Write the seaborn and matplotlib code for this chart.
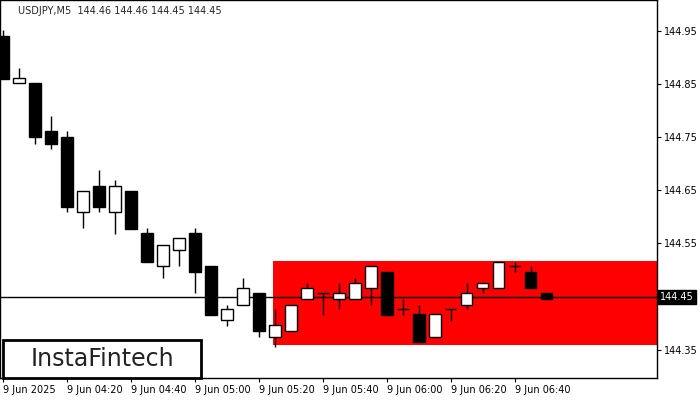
import matplotlib
matplotlib.use("Agg")
import matplotlib.pyplot as plt
import seaborn as sns
import numpy as np
from matplotlib.patches import Rectangle

sns.set_style("white")
plt.rcParams['font.family'] = ['DejaVu Sans']

opens  = [144.940,144.851,144.851,144.761,144.751,144.609,144.659,144.609,144.649,144.569,144.507,144.537,144.569,144.507,144.406,144.435,144.456,144.374,144.385,144.446,144.456,144.446,144.446,144.467,144.497,144.426,144.417,144.374,144.426,144.435,144.467,144.467,144.507,144.497,144.456]
closes = [144.860,144.862,144.750,144.738,144.618,144.649,144.618,144.659,144.578,144.516,144.548,144.560,144.497,144.415,144.426,144.467,144.385,144.396,144.435,144.467,144.456,144.456,144.476,144.507,144.415,144.426,144.365,144.417,144.426,144.456,144.476,144.516,144.507,144.467,144.446]
highs  = [144.952,144.880,144.851,144.790,144.761,144.649,144.689,144.670,144.649,144.580,144.548,144.560,144.580,144.507,144.435,144.485,144.456,144.426,144.435,144.476,144.456,144.476,144.485,144.507,144.497,144.446,144.435,144.417,144.426,144.476,144.476,144.516,144.516,144.507,144.456]
lows   = [144.860,144.851,144.738,144.728,144.609,144.580,144.610,144.567,144.578,144.516,144.486,144.507,144.456,144.415,144.394,144.435,144.374,144.356,144.385,144.446,144.415,144.426,144.446,144.435,144.415,144.415,144.365,144.374,144.404,144.426,144.456,144.467,144.497,144.467,144.446]
tick_labels = ["9 Jun 2025","9 Jun 04:20","9 Jun 04:40","9 Jun 05:00","9 Jun 05:20","9 Jun 05:40","9 Jun 06:00","9 Jun 06:20","9 Jun 06:40"]
y_ticks = [144.35,144.45,144.55,144.65,144.75,144.85,144.95]
zone_top, zone_bottom, zone_start = 144.518, 144.359, 17
current = 144.45

fig = plt.figure(figsize=(7,4), dpi=100)
ax = fig.add_axes([0.0, 0.055, 657/700, 0.945])
n = len(opens)
x = np.arange(n)
ax.set_xlim(-0.19, 40.9)
ax.set_ylim(144.297, 145.008)

ax.add_patch(Rectangle((zone_start-0.1, zone_bottom), 41-zone_start, zone_top-zone_bottom, color='#ff0000', zorder=1, lw=0))
ax.axhline(current, color='black', lw=1, zorder=2)

ax.vlines(x, lows, highs, color='black', lw=1, zorder=3)
for i in range(n):
    o, c = opens[i], closes[i]
    lo, hi = min(o, c), max(o, c)
    if abs(c - o) < 1e-6:
        ax.hlines(o, i-0.36, i+0.36, color='black', lw=1, zorder=4)
    else:
        fc = 'white' if c > o else 'black'
        ax.add_patch(Rectangle((i-0.36, lo), 0.72, hi-lo, facecolor=fc, edgecolor='black', lw=1, zorder=4))

ax.set_xticks(np.arange(0, 36, 4))
ax.set_xticklabels(tick_labels, fontsize=7, ha='left')
ax.yaxis.tick_right()
ax.set_yticks(y_ticks)
ax.set_yticklabels(["" if abs(v-current) < 1e-6 else f"{v:.2f}" for v in y_ticks], fontsize=7)
ax.tick_params(axis='both', length=3, direction='out', pad=2, colors='black')
ax.tick_params(axis='x', bottom=True)
ax.tick_params(axis='y', right=True)
for s in ax.spines.values():
    s.set_color('black'); s.set_linewidth(1)

ax.text(0.028, 0.985, "USDJPY,M5  144.46 144.46 144.45 144.45", transform=ax.transAxes, fontsize=7, va='top')
ax.text(1.005, current, "144.45", transform=ax.get_yaxis_transform(), fontsize=7, color='white', va='center', ha='left',
        bbox=dict(facecolor='black', edgecolor='black', pad=1.5))
fig.patches.append(Rectangle((3/700, 22/400), 198/700, 38/400, transform=fig.transFigure,
                             facecolor='white', edgecolor='black', lw=2, zorder=10))
fig.text(102/700, 41/400, "InstaFintech", fontsize=17, va='center', ha='center', color='#222222', zorder=11)

fig.savefig("out.png", dpi=100)
